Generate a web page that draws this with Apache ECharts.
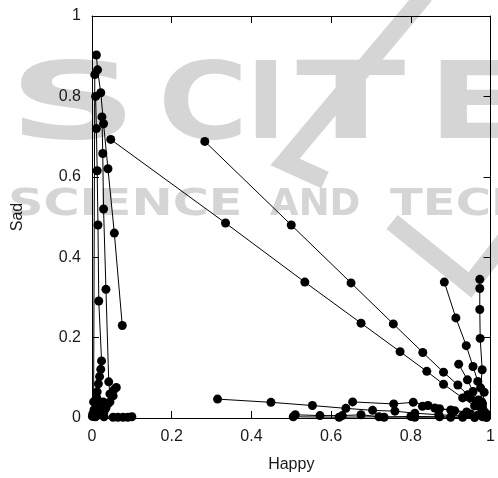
<!DOCTYPE html>
<html><head><meta charset="utf-8">
<script src="https://cdn.jsdelivr.net/npm/echarts@6/dist/echarts.min.js"></script>
<style>html,body{margin:0;padding:0;background:#fff}#c{width:498px;height:478px}</style>
</head><body><div id="c"></div>
<script>
// Axis ticks
const xTicks = [0, 0.2, 0.4, 0.6, 0.8, 1];
const yTicks = [0, 0.2, 0.4, 0.6, 0.8, 1];
// Trajectories: [Happy, Sad]
const trajL1 = [[0.011,0.903],[0.014,0.866],[0.022,0.809],[0.029,0.732],[0.040,0.620],[0.056,0.460],[0.076,0.230]];
const trajL2 = [[0.009,0.800],[0.011,0.720],[0.013,0.615],[0.015,0.480],[0.017,0.291],[0.024,0.142],[0.022,0.121],[0.019,0.103],[0.016,0.085],[0.013,0.065],[0.009,0.045],[0.005,0.020]];
const trajL3 = [[0.025,0.749],[0.027,0.658],[0.029,0.520],[0.035,0.320],[0.042,0.090],[0.045,0.060],[0.040,0.035],[0.030,0.015]];
const trajL4 = [[0.007,0.854],[0.004,0.040],[0.002,0.010]];
const trajL5 = [[0.061,0.076],[0.055,0.070],[0.053,0.055],[0.045,0.040],[0.035,0.025],[0.020,0.010],[0.008,0.003]];
const trajL6 = [[0.012,0.050],[0.010,0.035],[0.006,0.020],[0.003,0.008]];
const trajL7 = [[0.028,0.040],[0.020,0.030],[0.012,0.020],[0.005,0.010],[0.001,0.004]];
const trajL8 = [[0.100,0.003],[0.090,0.002],[0.078,0.002],[0.065,0.002],[0.053,0.002],[0.030,0.003],[0.010,0.004]];
const trajM1 = [[0.047,0.693],[0.335,0.485],[0.534,0.338],[0.675,0.236],[0.773,0.165],[0.840,0.116],[0.882,0.084],[0.930,0.050],[0.960,0.030],[0.980,0.015]];
const trajM2 = [[0.283,0.688],[0.500,0.480],[0.650,0.336],[0.756,0.234],[0.830,0.163],[0.882,0.114],[0.918,0.082],[0.950,0.050],[0.970,0.030]];
const trajR1 = [[0.884,0.338],[0.913,0.249],[0.939,0.180],[0.956,0.128],[0.968,0.091],[0.984,0.064],[0.980,0.035],[0.985,0.015]];
const trajR2 = [[0.973,0.345],[0.973,0.322],[0.973,0.270],[0.974,0.198],[0.979,0.120],[0.975,0.075],[0.978,0.040],[0.985,0.010]];
const trajR3 = [[0.920,0.134],[0.942,0.095],[0.956,0.066],[0.970,0.045],[0.980,0.025],[0.990,0.008]];
const trajR4 = [[0.943,0.058],[0.964,0.041],[0.975,0.030],[0.990,0.010]];
const trajB1 = [[0.315,0.047],[0.449,0.039],[0.553,0.031],[0.637,0.024],[0.704,0.019],[0.760,0.017],[0.810,0.012],[0.870,0.008],[0.930,0.005],[0.980,0.003]];
const trajB2 = [[0.654,0.040],[0.757,0.035],[0.806,0.039],[0.843,0.031],[0.872,0.023],[0.910,0.018],[0.950,0.010],[0.980,0.005]];
const trajB3 = [[0.510,0.008],[0.572,0.006],[0.628,0.006],[0.675,0.008],[0.733,0.002],[0.800,0.004],[0.872,0.003],[0.930,0.002],[0.990,0.001]];
const trajB4 = [[0.505,0.003],[0.620,0.002],[0.720,0.003],[0.810,0.002],[0.900,0.002],[0.960,0.001]];
const trajB5 = [[0.829,0.029],[0.860,0.025],[0.900,0.020],[0.940,0.015],[0.970,0.008]];

const trajectories = [trajL1,trajL2,trajL3,trajL4,trajL5,trajL6,trajL7,trajL8,trajM1,trajM2,trajR1,trajR2,trajR3,trajR4,trajB1,trajB2,trajB3,trajB4,trajB5];

const GRAY = '#d5d5d5';
const FONT = 'Liberation Sans';
const chart = echarts.init(document.getElementById('c'), null, {renderer:'canvas'});
function wm(text, x, y, size, sx){
  return {type:'text', x:x, y:y, scaleX:sx, z:-10, silent:true,
    style:{text:text, fill:GRAY, font:'bold '+size+'px "DejaVu Sans"', textVerticalAlign:'top'}};
}
const axisCommon = {
  min:0, max:1, interval:0.2,
  axisLine:{show:true, onZero:false, lineStyle:{color:'#000', width:1}},
  axisTick:{show:true, inside:true, length:7, lineStyle:{color:'#000'}},
  splitLine:{show:false}
};
const labelStyle = {fontFamily:FONT, fontSize:16, color:'#1a1a1a', margin:11, formatter:v=>String(+v.toFixed(1))};
chart.setOption({
  animation:false,
  backgroundColor:'#fff',
  graphic:[
    wm('S', 8, 57, 107, 1.69),
    wm('C', 158, 57, 107, 1.15),
    wm('I', 246, 57, 107, 1.0),
    wm('T', 296, 57, 107, 1.5),
    wm('E', 428, 57, 107, 1.3),
    wm('SCIENCE', 8, 187, 37, 1.33),
    wm('AND', 270, 187, 37, 1.0),
    wm('TECHNOLOGY', 390, 187, 37, 1.3),
    {type:'polyline', z:-10, silent:true, shape:{points:[[425,-5],[285,162],[325,180]]}, style:{stroke:GRAY, lineWidth:18, fill:null}},
    {type:'polyline', z:-10, silent:true, shape:{points:[[392,222],[470,285],[505,240]]}, style:{stroke:GRAY, lineWidth:18, fill:null}}
  ],
  grid:{left:92, right:3, top:16, bottom:58},
  xAxis:[
    Object.assign({}, axisCommon, {type:'value', position:'bottom', name:'Happy', nameLocation:'middle', nameGap:39,
      nameTextStyle:{fontFamily:FONT, fontSize:16, color:'#1a1a1a'}, axisLabel:labelStyle}),
    Object.assign({}, axisCommon, {type:'value', position:'top', axisLabel:{show:false}})
  ],
  yAxis:[
    Object.assign({}, axisCommon, {type:'value', position:'left', name:'Sad', nameLocation:'middle', nameGap:66,
      nameTextStyle:{fontFamily:FONT, fontSize:16, color:'#1a1a1a'}, axisLabel:labelStyle}),
    Object.assign({}, axisCommon, {type:'value', position:'right', axisLabel:{show:false}})
  ],
  series: trajectories.map(t => ({
    type:'line', data:t, xAxisIndex:0, yAxisIndex:0,
    symbol:'circle', symbolSize:9, showSymbol:true,
    lineStyle:{color:'#000', width:1}, itemStyle:{color:'#000'},
    clip:false
  }))
});
</script></body></html>
